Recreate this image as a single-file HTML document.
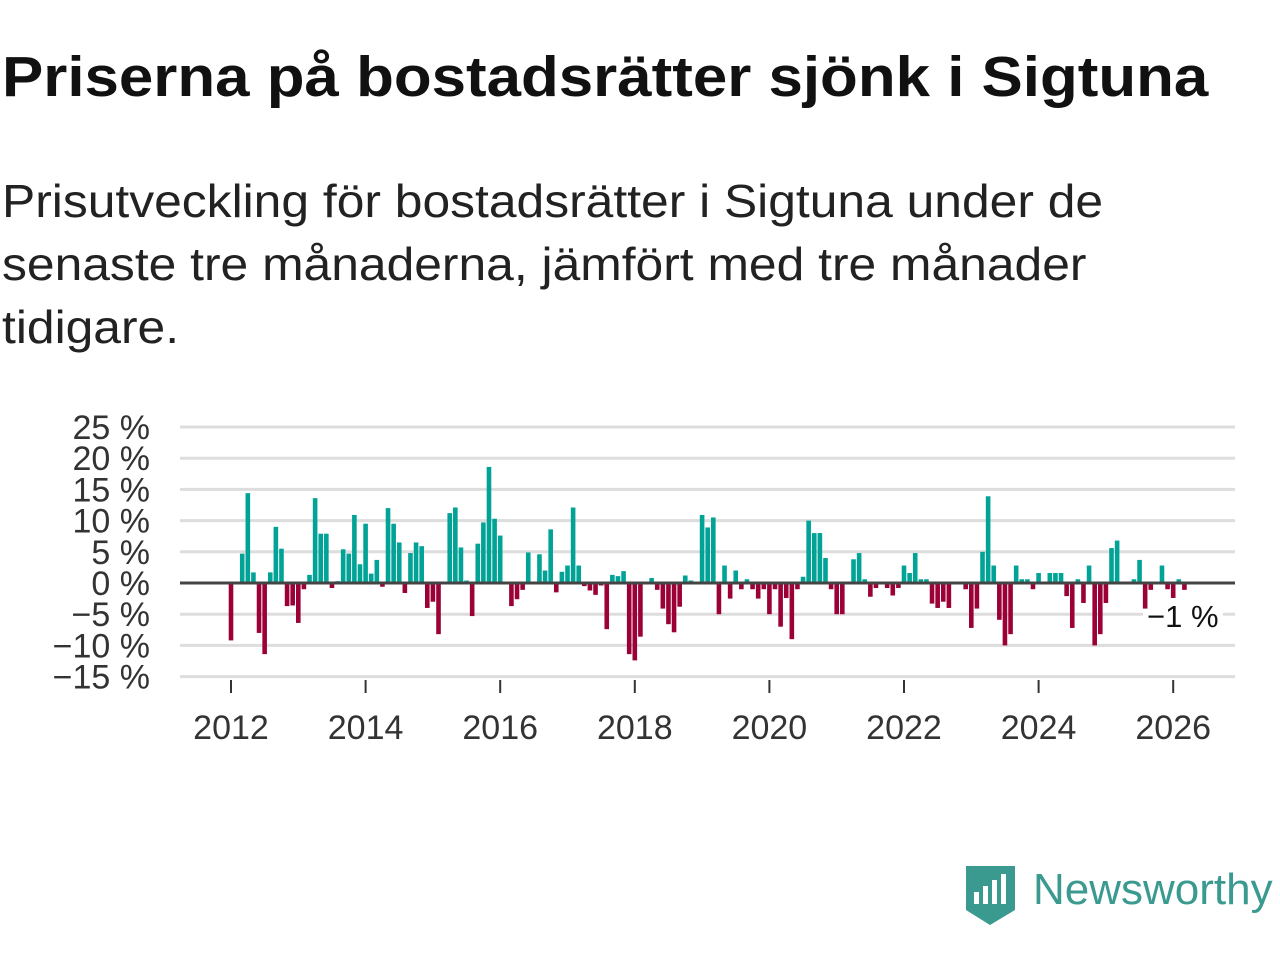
<!DOCTYPE html>
<html><head><meta charset="utf-8"><style>
body{margin:0;width:1280px;height:960px;background:#fff;overflow:hidden;font-family:"Liberation Sans",sans-serif;position:relative}
#title{position:absolute;left:2px;top:44px;font-size:57px;font-weight:bold;color:#111;white-space:nowrap;transform-origin:0 0;transform:scaleX(1.085)}
#sub{position:absolute;left:2px;top:170px;font-size:46px;line-height:63px;color:#222;white-space:nowrap;transform-origin:0 0;transform:scaleX(1.082)}
svg{position:absolute;left:0;top:0}
</style></head><body>
<div id="title">Priserna på bostadsrätter sjönk i Sigtuna</div>
<div id="sub">Prisutveckling för bostadsrätter i Sigtuna under de<br>senaste tre månaderna, jämfört med tre månader<br>tidigare.</div>
<svg id="chart" width="1280" height="960"></svg>
<script>
const values=[-9.2,0,4.7,14.4,1.7,-8,-11.4,1.7,9,5.5,-3.7,-3.6,-6.4,-1,1.3,13.6,7.9,7.9,-0.8,0.3,5.4,4.7,10.9,3,9.5,1.5,3.7,-0.6,12,9.5,6.5,-1.6,4.8,6.5,5.9,-4,-3,-8.2,0,11.2,12.1,5.7,0.4,-5.3,6.3,9.7,18.6,10.3,7.6,0,-3.7,-2.6,-1.1,4.9,0,4.6,2,8.6,-1.5,1.8,2.8,12.1,2.8,-0.5,-1.2,-1.9,-0.4,-7.4,1.3,1.1,1.9,-11.4,-12.4,-8.6,0,0.8,-1.1,-4.1,-6.6,-7.9,-3.8,1.2,0.4,0,10.9,8.9,10.5,-5,2.8,-2.5,2,-1,0.6,-1,-2.5,-1,-5,-1,-7,-2.4,-9,-1,1,10,8,8,4,-1,-5,-5,0,3.8,4.8,0.6,-2.2,-0.8,0,-0.8,-2,-0.8,2.8,1.6,4.8,0.6,0.6,-3.3,-4,-3,-4,0,0,-1,-7.2,-4.1,5,13.9,2.8,-5.9,-10,-8.2,2.8,0.6,0.6,-1,1.6,0,1.6,1.6,1.6,-2.1,-7.2,0.6,-3.2,2.8,-10,-8.2,-3.2,5.6,6.8,0,0,0.6,3.7,-4.1,-1.1,0,2.8,-1,-2.4,0.6,-1.1];
const startYear=2012;
const yTicks=[25,20,15,10,5,0,-5,-10,-15];
const yTickLabels=["25 %","20 %","15 %","10 %","5 %","0 %","−5 %","−10 %","−15 %"];
const xTicks=[2012,2014,2016,2018,2020,2022,2024,2026];
const lastLabel="−1 %";

const svg=document.getElementById('chart');
const NS='http://www.w3.org/2000/svg';
const x=t=>231+(t-2012)*67.3;
const y=v=>583-v*6.24;
function mk(tag,attrs){const e=document.createElementNS(NS,tag);for(const k in attrs)e.setAttribute(k,attrs[k]);svg.appendChild(e);return e;}
yTicks.forEach((t,i)=>{
  const g=mk('line',{x1:180,x2:1235,y1:y(t),y2:y(t),stroke:'#ddd','stroke-width':3});
  
  
  const l=mk('text',{x:150,y:y(t)+12,'text-anchor':'end','font-size':34,fill:'#333','font-family':'Liberation Sans, sans-serif'});
  l.textContent=yTickLabels[i];
  
  
});
xTicks.forEach(t=>{
  const tk=mk('line',{x1:x(t),x2:x(t),y1:680,y2:693,stroke:'#333','stroke-width':2});
  
  
  const l=mk('text',{x:x(t),y:739,'text-anchor':'middle','font-size':34,fill:'#333','font-family':'Liberation Sans, sans-serif'});
  l.textContent=t;
  
  
});
values.forEach((v,i)=>{
  const cx=x(startYear+i/12);
  const r=mk('rect',{x:cx-2.3,width:4.6,y:Math.min(y(v),y(0)),height:Math.abs(y(v)-y(0)),fill:v>=0?'#00a396':'#9b0037'});
  
  
});
const z=mk('line',{x1:180,x2:1235,y1:y(0),y2:y(0),stroke:'#444','stroke-width':3});


const bgl=mk('rect',{x:1143,y:610,width:80,height:26,fill:'#fff'});


const ll=mk('text',{x:1147,y:627,'font-size':31,fill:'#111','font-family':'Liberation Sans, sans-serif'});
ll.textContent=lastLabel;


</script>
<svg width="1280" height="960" style="pointer-events:none">
<path d="M966 866 H1015 V910 L990 925 L966 910 Z" fill="#3a9a90"/>
<rect x="974" y="892" width="5" height="12" fill="#fff"/>
<rect x="983" y="886" width="5" height="18" fill="#fff"/>
<rect x="992" y="880" width="5" height="24" fill="#fff"/>
<rect x="1001" y="874" width="5" height="30" fill="#fff"/>
<text x="1033" y="904" font-size="44" fill="#3a9a90" font-family="Liberation Sans, sans-serif">Newsworthy</text>
</svg>
</body></html>
